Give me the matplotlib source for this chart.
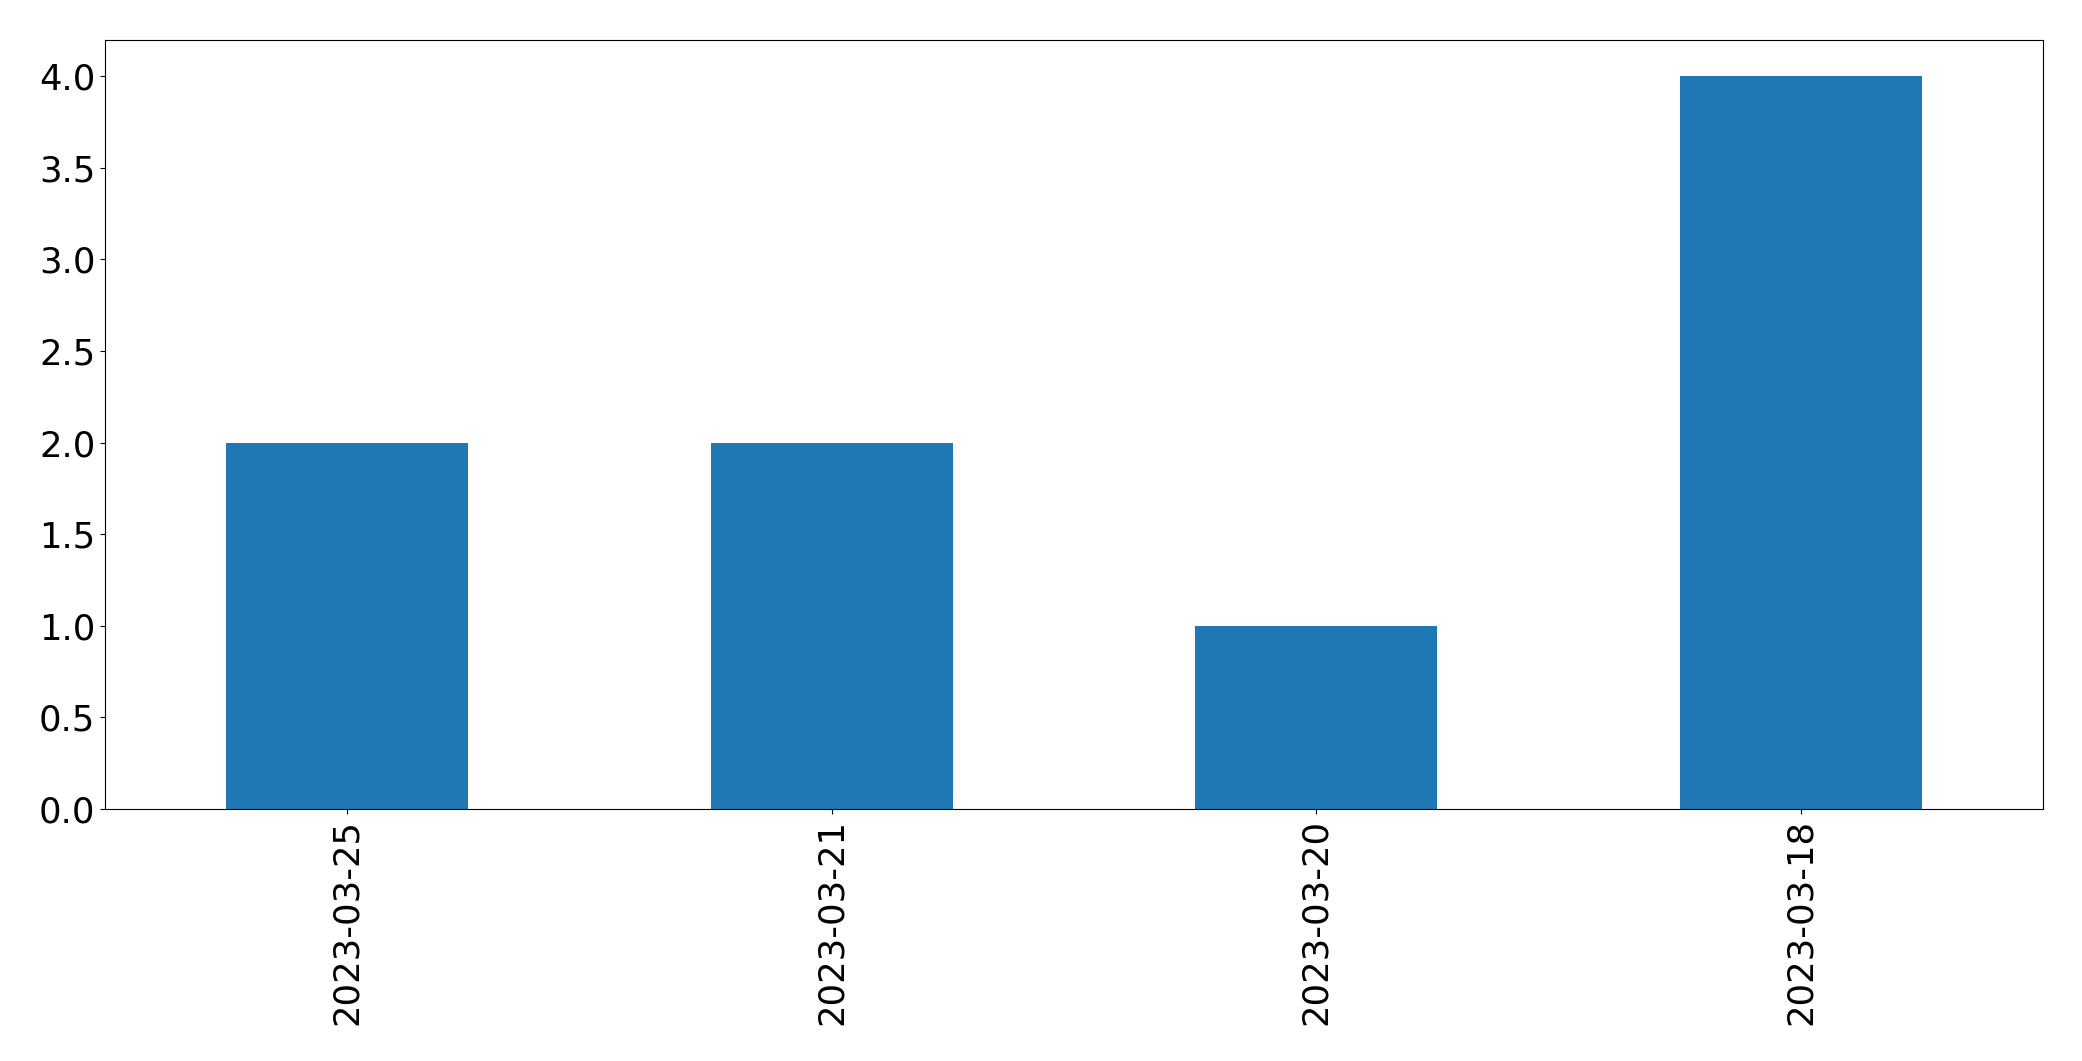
import matplotlib
matplotlib.use("Agg")
import matplotlib.pyplot as plt

dates = ["2023-03-25", "2023-03-21", "2023-03-20", "2023-03-18"]
counts = [2, 2, 1, 4]

fig = plt.figure(figsize=(20.82, 10.61), dpi=100)
ax = fig.add_axes([105/2082, 1-809/1061, (2043-105)/2082, (809-39.5)/1061])
x = list(range(len(dates)))
ax.bar(x, counts, width=0.5, color="#1f77b4")
ax.set_xlim(-0.5, len(dates) - 0.5)
ax.set_ylim(0, 4.2)
ax.set_xticks(x)
ax.set_xticklabels(dates, rotation=90)
ax.tick_params(labelsize=25.5)
fig.savefig("out.png", dpi=100)
